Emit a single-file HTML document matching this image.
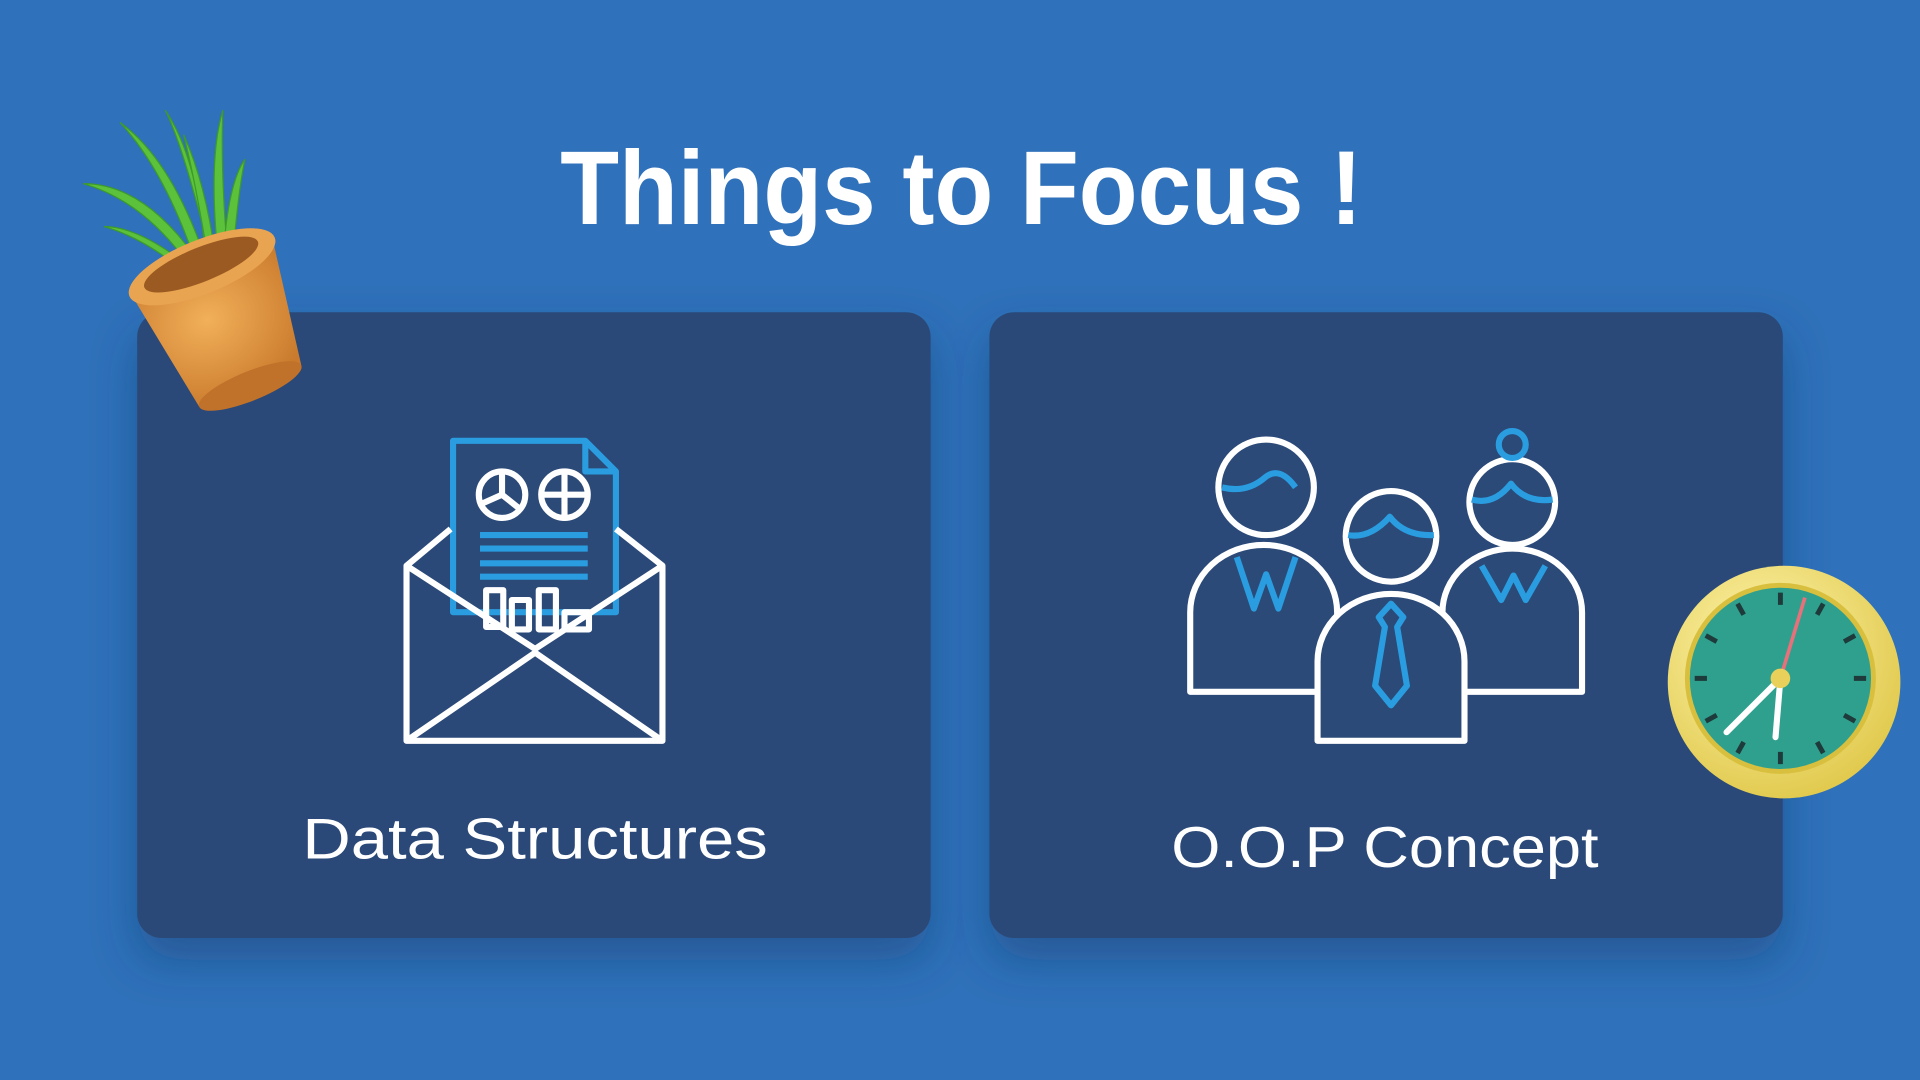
<!DOCTYPE html>
<html><head><meta charset="utf-8"><style>
html,body{margin:0;padding:0;width:1920px;height:1080px;overflow:hidden;background:#2f71ba;}
svg{display:block}
text{font-family:"Liberation Sans","DejaVu Sans",sans-serif;}
</style></head><body>
<svg width="1920" height="1080" viewBox="0 0 1568 882" xmlns="http://www.w3.org/2000/svg">
<defs>
<filter id="sh" x="-20%" y="-20%" width="140%" height="160%"><feDropShadow dx="0" dy="18" stdDeviation="18" flood-color="#123a6a" flood-opacity="0.45"/></filter>
<radialGradient id="pot" cx="40%" cy="40%" r="70%"><stop offset="0" stop-color="#f2b05a"/><stop offset="1" stop-color="#c97a2c"/></radialGradient>
<radialGradient id="rim" cx="40%" cy="35%" r="70%"><stop offset="0" stop-color="#fff6b0"/><stop offset="1" stop-color="#e0c84a"/></radialGradient>
</defs>
<rect width="1568" height="882" fill="#2f71ba"/>
<text x="785" y="183" text-anchor="middle" font-size="86" font-weight="bold" fill="#ffffff" textLength="655" lengthAdjust="spacingAndGlyphs">Things to Focus !</text>

<g>
<rect x="112" y="255" width="648" height="511" rx="20" fill="#2b4a78" filter="url(#sh)"/>
<g fill="none" stroke-width="5" stroke-linejoin="round">
<path d="M370 360 H478 L503 385 V500 H370 Z" stroke="#2a9de0" fill="#2b4a78"/>
<path d="M478 360 V385 H503" stroke="#2a9de0"/>
<circle cx="410" cy="404" r="19" stroke="#fff"/><path d="M410 385 V404 L392 412 M410 404 L425 416" stroke="#fff"/>
<circle cx="461" cy="404" r="19" stroke="#fff"/><path d="M461 385 V423 M442 404 H480" stroke="#fff"/>
<path d="M392 437 H480 M392 448 H480 M392 460 H480 M392 471 H480" stroke="#2a9de0"/>
<path d="M397 482 h14 v30 h-14 Z M418 490 h14 v24 h-14 Z M440 482 h14 v32 h-14 Z M461 500 h20 v14 h-20Z" stroke="#fff"/>
<path d="M332 462 L368 432 M503 432 L541 462" stroke="#fff"/>
<path d="M332 462 V605 H541 V462 L437 530 Z" stroke="#fff"/>
<path d="M332 605 L437 533 L541 605" stroke="#fff"/>
</g>
<text x="437" y="701" text-anchor="middle" font-size="47" fill="#fff" textLength="380" lengthAdjust="spacingAndGlyphs">Data Structures</text>
</g>

<g>
<rect x="808" y="255" width="648" height="511" rx="20" fill="#2b4a78" filter="url(#sh)"/>
<g fill="#2b4a78" stroke-width="5" stroke-linejoin="round">
<path d="M972 565 V500 a60 55 0 0 1 120 0 V565 Z" stroke="#fff"/>
<circle cx="1034" cy="398" r="39" stroke="#fff"/>
<path d="M998 398 q20 5 35 -8 q12 -10 25 8" stroke="#2a9de0" fill="none"/>
<path d="M1010 455 l14 42 l10 -28 l10 28 l14 -42" stroke="#2a9de0" fill="none"/>
<path d="M1178 565 V500 a57 52 0 0 1 114 0 V565 Z" stroke="#fff"/>
<circle cx="1235" cy="410" r="35" stroke="#fff"/>
<circle cx="1235" cy="363" r="11" stroke="#2a9de0"/>
<path d="M1202 408 q18 5 32 -13 q12 16 34 13" stroke="#2a9de0" fill="none"/>
<path d="M1210 462 l16 28 l10 -20 l10 20 l16 -28" stroke="#2a9de0" fill="none"/>
<path d="M1076 605 V540 a60 55 0 0 1 120 0 V605 Z" stroke="#fff"/>
<circle cx="1136" cy="438" r="37" stroke="#fff"/>
<path d="M1101 437 q18 3 34 -15 q12 16 36 15" stroke="#2a9de0" fill="none"/>
<path d="M1136 493 l10 11 l-5 8 l8 48 l-13 16 l-13 -16 l8 -48 l-5 -8 Z" stroke="#2a9de0" fill="none"/>
</g>
<text x="1131" y="708" text-anchor="middle" font-size="47" fill="#fff" textLength="349" lengthAdjust="spacingAndGlyphs">O.O.P Concept</text>
</g>

<g>
<g fill="#5cc23c" stroke="#3e9a2a" stroke-width="1">
<path d="M165 218 Q120 150 68 150 Q120 165 158 222 Z"/>
<path d="M168 212 Q140 130 98 100 Q135 140 160 215 Z"/>
<path d="M172 210 Q150 120 135 90 Q162 130 168 212 Z"/>
<path d="M178 208 Q170 130 182 90 Q180 140 186 208 Z"/>
<path d="M182 212 Q186 150 200 130 Q194 160 190 212 Z"/>
<path d="M160 222 Q115 185 85 185 Q120 195 155 226 Z"/>
<path d="M170 212 Q160 150 150 110 Q168 150 176 210 Z"/>
</g>
<g transform="rotate(-22 180 255)">
<path d="M118 215 L242 215 L225 320 L135 320 Z" fill="url(#pot)"/>
<ellipse cx="180" cy="215" rx="64" ry="22" fill="#e9a451"/>
<ellipse cx="180" cy="213" rx="50" ry="14" fill="#9a5a22"/>
<ellipse cx="180" cy="320" rx="45" ry="12" fill="#c0712a"/>
</g>
</g>

<g>
<circle cx="1457" cy="557" r="95" fill="url(#rim)"/>
<circle cx="1454" cy="554" r="76" fill="#2fa08e" stroke="#d8bf3e" stroke-width="4"/>
<g stroke="#1e3a3a" stroke-width="4">
<path d="M1454 484 v10 M1454 614 v10 M1384 554 h10 M1514 554 h10 M1489 493 l-5 9 M1419 493 l5 9 M1489 615 l-5 -9 M1419 615 l5 -9 M1515 519 l-9 5 M1393 519 l9 5 M1515 589 l-9 -5 M1393 589 l9 -5"/>
</g>
<path d="M1454 554 L1410 598 M1454 554 L1450 602" stroke="#fff" stroke-width="5" stroke-linecap="round"/>
<path d="M1454 554 L1474 488" stroke="#e8707a" stroke-width="3"/>
<circle cx="1454" cy="554" r="8" fill="#e8d05a"/>
</g>
</svg>
</body></html>
